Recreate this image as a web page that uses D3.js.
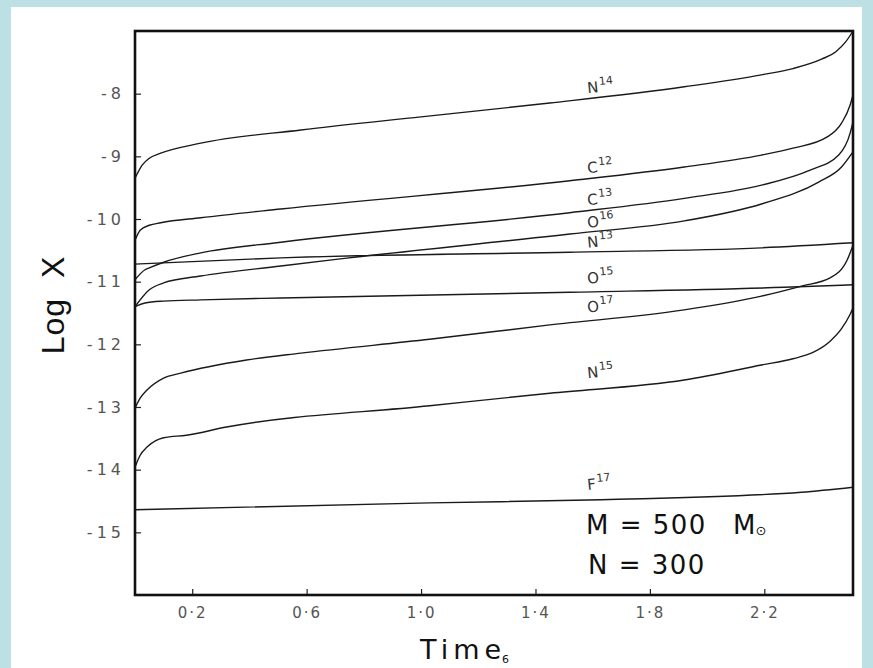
<!DOCTYPE html>
<html><head><meta charset="utf-8">
<script src="https://cdn.jsdelivr.net/npm/d3@7/dist/d3.min.js"></script>
<style>body{margin:0;background:#bce0e4;}svg{display:block;}text{white-space:pre;}</style>
</head><body>
<svg id="chart" width="873" height="668"></svg>
<script>
// ---- data ----
const xTicks = [0.2, 0.6, 1.0, 1.4, 1.8, 2.2];
const yTicks = [-8, -9, -10, -11, -12, -13, -14, -15];
const labelElements = ["N", "C", "C", "O", "N", "O", "O", "N", "F"];
const labelMasses = ["14", "12", "13", "16", "13", "15", "17", "15", "17"];

const n14T = [0, 0.025, 0.05, 0.09, 0.23, 0.58, 1.0, 1.45, 1.92, 2.19, 2.30, 2.40, 2.45, 2.485, 2.51];
const n14V = [-9.35, -9.14, -9.03, -8.95, -8.79, -8.58, -8.37, -8.15, -7.89, -7.70, -7.60, -7.45, -7.33, -7.17, -7.0];
const c12T = [0, 0.018, 0.05, 0.09, 0.23, 0.51, 1.52, 1.92, 2.19, 2.30, 2.42, 2.47, 2.50, 2.51];
const c12V = [-10.34, -10.18, -10.10, -10.06, -9.98, -9.84, -9.39, -9.17, -8.98, -8.87, -8.69, -8.47, -8.18, -8.02];
const c13T = [0, 0.035, 0.05, 0.10, 0.23, 0.51, 1.52, 1.92, 2.19, 2.36, 2.46, 2.50, 2.51];
const c13V = [-10.97, -10.81, -10.78, -10.69, -10.54, -10.37, -9.90, -9.67, -9.46, -9.22, -8.98, -8.63, -8.45];
const o16T = [0, 0.05, 0.10, 0.23, 0.51, 0.71, 1.52, 1.92, 2.19, 2.39, 2.47, 2.51];
const o16V = [-11.40, -11.13, -11.02, -10.91, -10.75, -10.64, -10.24, -10.03, -9.76, -9.41, -9.17, -8.93];
const n13T = [0, 0.51, 1.52, 2.19, 2.51];
const n13V = [-10.72, -10.62, -10.53, -10.46, -10.38];
const o15T = [0, 0.035, 0.10, 0.23, 0.51, 1.52, 2.27, 2.51];
const o15V = [-11.40, -11.34, -11.31, -11.29, -11.26, -11.17, -11.09, -11.05];
const o17T = [0, 0.018, 0.042, 0.10, 0.16, 0.39, 0.58, 1.03, 1.45, 1.92, 2.19, 2.33, 2.43, 2.49, 2.51];
const o17V = [-13.02, -12.86, -12.73, -12.54, -12.46, -12.25, -12.14, -11.92, -11.69, -11.45, -11.23, -11.07, -10.94, -10.65, -10.42];
const n15T = [0, 0.018, 0.042, 0.10, 0.18, 0.32, 1.03, 1.45, 1.92, 2.19, 2.30, 2.37, 2.43, 2.47, 2.50, 2.51];
const n15V = [-13.96, -13.77, -13.64, -13.49, -13.45, -13.32, -12.98, -12.78, -12.57, -12.33, -12.23, -12.13, -11.95, -11.75, -11.52, -11.42];
const f17T = [0, 1.03, 1.63, 2.33, 2.51];
const f17V = [-14.64, -14.53, -14.48, -14.36, -14.28];

const seriesTimes = [n14T, c12T, c13T, o16T, n13T, o15T, o17T, n15T, f17T];
const seriesValues = [n14V, c12V, c13V, o16V, n13V, o15V, o17V, n15V, f17V];
const labelTime = 1.59;

// ---- layout ----
const svg = d3.select("#chart");
const L = 135, T = 31, R = 853, B = 595;
const labelGap = [5, 5, 5, 4, 4, 8, 8, 11, 10];
const x = d3.scaleLinear().domain([0, 2.51]).range([L, R]);
const y = d3.scaleLinear().domain([-16, -7]).range([B, T]);

svg.append("rect").attr("x", 0).attr("y", 0).attr("width", 873).attr("height", 668).attr("fill", "#bce0e4");
svg.append("rect").attr("x", 11).attr("y", 7).attr("width", 851).attr("height", 661).attr("fill", "#ffffff");

const series = seriesTimes.map((ts, i) => ts.map((t, j) => ({t: t, v: seriesValues[i][j]})));
const line = d3.line().x(d => x(d.t)).y(d => y(d.v)).curve(d3.curveMonotoneX);

svg.append("g").selectAll("path").data(series).join("path")
  .attr("d", line).attr("fill", "none").attr("stroke", "#1a1a1a").attr("stroke-width", 1.4);

// axes
const yAxis = d3.axisLeft(y).tickValues(yTicks).tickSize(-6).tickPadding(10)
  .tickFormat(d => "-" + Math.abs(d));
const gy = svg.append("g").attr("transform", `translate(${L},0)`).call(yAxis);
gy.select(".domain").remove();
gy.selectAll(".tick line").attr("stroke", "#222").attr("stroke-width", 1.2);
gy.selectAll(".tick text").attr("font-family", "DejaVu Sans, sans-serif").attr("font-size", 16)
  .attr("fill", "#555").attr("letter-spacing", "4px");

const xAxis = d3.axisBottom(x).tickValues(xTicks).tickSize(-6).tickPadding(12)
  .tickFormat(d => d3.format(".1f")(d).replace(".", "·"));
const gx = svg.append("g").attr("transform", `translate(0,${B})`).call(xAxis);
gx.select(".domain").remove();
gx.selectAll(".tick line").attr("stroke", "#222").attr("stroke-width", 1.2);
gx.selectAll(".tick text").attr("font-family", "DejaVu Sans, sans-serif").attr("font-size", 15)
  .attr("fill", "#555").attr("letter-spacing", "2px");

// frame
svg.append("rect").attr("x", L).attr("y", T).attr("width", R - L).attr("height", B - T)
  .attr("fill", "none").attr("stroke", "#111").attr("stroke-width", 2.6);

// curve labels
function valueAt(ts, vs, t) {
  const i = d3.bisectRight(ts, t) - 1;
  const k = (t - ts[i]) / (ts[i + 1] - ts[i]);
  return vs[i] + k * (vs[i + 1] - vs[i]);
}
const lab = svg.append("g");
labelElements.forEach((el, i) => {
  const px = x(labelTime) - 2, py = y(valueAt(seriesTimes[i], seriesValues[i], labelTime)) - labelGap[i];
  const t = lab.append("text").attr("transform", `translate(${px},${py}) rotate(-6)`)
    .attr("font-family", "DejaVu Sans, sans-serif").attr("font-size", 15).attr("fill", "#333");
  t.append("tspan").text(el);
  t.append("tspan").attr("dy", -7).attr("font-size", 11).attr("dx", 1).text(labelMasses[i]);
});

// axis titles
svg.append("text").attr("transform", "translate(64,305) rotate(-90)").attr("text-anchor", "middle")
  .attr("font-family", "Liberation Sans, Arial, sans-serif").attr("font-size", 32).attr("fill", "#111")
  .attr("letter-spacing", "1px").text("Log  X");
const tt = svg.append("text").attr("x", 420).attr("y", 659)
  .attr("font-family", "DejaVu Sans, sans-serif").attr("font-size", 27).attr("fill", "#111");
tt.append("tspan").attr("letter-spacing", "5px").text("Tim");
tt.append("tspan").text("e");
tt.append("tspan").attr("font-size", 11).attr("dy", 4).attr("dx", 1).text("6");

// annotation
const annFont = "DejaVu Sans, sans-serif";
svg.append("text").attr("x", 586).attr("y", 534)
  .attr("font-family", annFont).attr("font-size", 26).attr("fill", "#111").attr("letter-spacing", "1.5px")
  .text("M = 500");
const a2 = svg.append("text").attr("x", 733).attr("y", 534)
  .attr("font-family", annFont).attr("font-size", 26).attr("fill", "#111");
a2.append("tspan").text("M");
a2.append("tspan").attr("font-size", 13).attr("dy", 1).text("⊙");
svg.append("text").attr("x", 588).attr("y", 574)
  .attr("font-family", annFont).attr("font-size", 26).attr("fill", "#111").attr("letter-spacing", "1.5px")
  .text("N = 300");
</script>
</body></html>
